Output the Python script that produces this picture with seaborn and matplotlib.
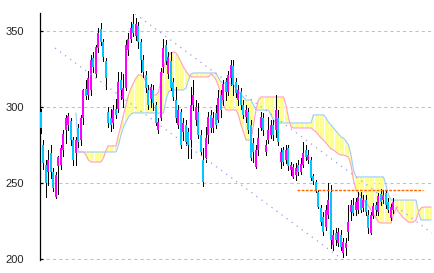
import numpy as np
import pandas as pd
import matplotlib
matplotlib.use("Agg")
import matplotlib.pyplot as plt
import seaborn as sns

# ---------------- data ----------------
opens = [297, 275, 262, 257, 270, 257, 241, 261, 262, 272,
         285, 288, 291, 278, 270, 286, 278, 293, 312, 308,
         311, 332, 322, 339, 351, 343, 330, 297, 293, 289.5,
         299, 299, 318, 305, 312.5, 337.5, 345, 354.6, 346.7, 353,
         343, 331, 321, 311, 305, 311, 301, 285, 293, 326,
         341, 322, 330, 316.5, 304.6, 288, 297, 283.6, 288, 283.6,
         278, 301, 291.5, 297, 281.6, 265, 266.5, 281.6, 294.8, 286.2,
         296, 291.5, 308, 304.6, 316.5, 310, 319, 327, 316.5, 304.6,
         310, 301, 293.4, 296.7, 288, 276.3, 260.5, 271.7, 286.2, 292.8,
         270.4, 278.3, 281.6, 288.2, 285, 292.8, 263.8, 271.7, 265, 273,
         258.6, 254, 255.3, 262, 257.2, 262, 271.7, 265, 265, 254.6,
         250.7, 244, 233.6, 227.6, 221, 229, 244, 209.2, 217, 210.5,
         215.8, 204, 207, 217.8, 231, 235.5, 232.2, 232.2, 240, 233.6,
         238.8, 229, 217, 228.3, 235.5, 231, 242.8, 238.8, 243.4, 237.5,
         227, 232.2]
highs = [299, 278, 265, 272, 275, 260, 257, 268, 275, 285,
         295, 296, 293, 280, 280, 289, 295, 312, 318, 324,
         334, 336, 341, 352, 355, 345, 332, 300, 299, 301,
         305, 323, 323, 322, 344, 349, 356, 362.5, 358.6, 356,
         345, 334, 324, 314.5, 315, 314.5, 303, 293, 325.7, 345,
         344, 336, 336, 319, 313, 301, 299, 293, 291.5, 286,
         313, 318, 304.6, 302.6, 285, 273, 287, 296.7, 298, 296.7,
         301, 311, 311, 318, 319, 324, 331, 331, 319, 314.5,
         312.5, 304.6, 301, 299.4, 291.5, 279.6, 275, 286.2, 296.7, 296,
         278.3, 293.4, 291.5, 291.5, 308, 298, 273, 273.7, 275, 275,
         263.8, 262.5, 263.2, 265, 266.5, 277, 275, 271.7, 267, 256,
         252, 245.4, 235.5, 231, 235.5, 250, 248.7, 219, 220.4, 220.4,
         219, 213.8, 213.8, 235.5, 238.8, 240, 240, 244, 244, 242,
         242, 232.2, 231, 237, 237.5, 243.4, 246, 245.4, 245.4, 240,
         236, 240]
lows = [283, 259, 241, 249, 253, 245, 240, 243, 259, 268,
        276, 285, 275, 262, 262, 274, 275, 289, 305, 305,
        308, 323, 320, 336, 341, 330, 312, 287, 284, 286,
        293, 297, 305, 300, 311, 334, 343, 347, 344, 339,
        323, 320, 310, 299, 300, 298, 288, 283, 291.5, 323,
        328, 319, 311, 304.6, 290, 286, 273, 278, 275, 266.5,
        266.5, 298, 288, 279.6, 268.4, 248, 263.8, 276.3, 283.6, 283.6,
        286, 290, 293.4, 301, 304.6, 308, 314.5, 308, 306.6, 301,
        299, 292.8, 290, 283, 265, 263.8, 260, 268.4, 285, 281.6,
        268.4, 276.3, 279.6, 278.3, 280.3, 275, 260, 262, 263, 258.6,
        255.3, 253.3, 252, 255.3, 256, 260.5, 265, 263.2, 252, 249.4,
        244, 233.6, 222.4, 215.8, 219, 227, 207.2, 206, 209.2, 208.6,
        206, 201.3, 202.6, 212.5, 225.7, 229, 229, 230.3, 231, 231.5,
        229, 217, 216.5, 227, 229, 229, 235.5, 236.8, 233.6, 231,
        225.7, 230.3]
closes = [286, 263, 250, 265, 257, 247, 255, 267, 273, 282,
          293, 294, 278, 265, 278, 277, 293, 311, 307, 319,
          331, 326, 339.5, 349, 343, 333, 319, 289.5, 288, 298,
          295, 316.5, 311, 312.5, 341, 345, 352, 349, 354.6, 343,
          331, 323, 312.5, 301, 313, 302.6, 289.5, 290, 323, 339,
          330, 333, 312.5, 306.6, 293, 298, 275, 289.5, 277, 275,
          301, 308, 300, 281.6, 270.4, 250.7, 279.6, 293.4, 286.2, 292.8,
          288, 306, 298, 315, 310, 321, 327.7, 314.5, 309, 311,
          301, 294.8, 298, 285, 266.5, 270.4, 271.7, 279.6, 293.4, 285,
          275, 285, 288.2, 281.6, 298, 277, 270.4, 263.8, 271.7, 261,
          262, 260.5, 260, 257, 262.5, 269.7, 267, 268.4, 253.3, 251.3,
          245.4, 234.2, 224.3, 217.8, 232.2, 238.8, 212.5, 215.8, 212.5, 217.8,
          208, 211, 210.5, 224.3, 235.5, 230.3, 237.5, 240.8, 232.2, 238.8,
          231, 220.4, 229, 235, 232.2, 241.5, 237.5, 242, 235.5, 232.2,
          234.2, 237.5]

cloud_start = 14
span_a = [296.1,
          270.4, 270.4, 270.4, 270.4, 270.4, 270.4, 270.4, 270.4,
          270.4, 270.4, 270.4, 270.4, 270.4, 270.4, 270.4, 270.4,
          275.0, 281.6, 286.9, 290.1, 293.4, 295.4,
          296.1, 296.1, 296.1, 296.1, 296.1, 296.1, 296.1, 296.1, 296.1, 296.1, 296.1, 296.1, 296.1,
          304.6, 309.9,
          311.2, 311.2, 311.2, 311.2, 311.2, 311.2,
          312.5, 317.8, 321.7,
          322.4, 322.4, 322.4, 322.4, 322.4, 322.4, 322.4, 322.4, 322.4, 322.4,
          319.1, 316.5,
          315.8, 315.8, 315.8, 315.8,
          314.5, 312.5, 309.9, 307.9, 306.6,
          304.6, 304.6, 304.6,
          301.3,
          298.0, 298.0, 298.0, 298.0, 298.0, 298.0,
          294.8, 291.5,
          289.5, 289.5, 289.5, 289.5, 289.5, 289.5, 289.5, 289.5,
          289.5, 289.5, 289.5, 289.5, 289.5, 289.5, 289.5,
          294.8, 294.8, 294.8, 294.8, 294.8,
          292.8, 290.1, 288.2, 286.2, 284.2, 282.3, 280.3, 279.6, 277.6, 275.0, 268.4, 258.6,
          254.0, 254.0, 254.0, 254.0, 254.0, 254.0, 254.0, 254.0, 254.0, 254.0, 254.0, 254.0,
          248.7, 242.1,
          238.8, 238.8, 238.8, 238.8, 238.8, 238.8, 238.8, 238.8, 238.8, 238.8, 238.8,
          230.9,
          225.7, 225.7, 225.7, 225.7, 225.7]
span_b = [np.nan,
          270.4, 270.4, 270.4, 268.4, 265.1,
          263.8, 263.8, 263.8, 263.8, 263.8,
          266.5, 271.7,
          274.4, 274.4, 274.4, 274.4,
          281.6, 288.2, 294.8, 301.3, 307.9, 312.5, 315.8, 319.1, 321.1, 321.1,
          319.8, 316.5, 312.5, 309.9, 307.9, 307.9, 309.9, 317.8, 325.7, 330.9,
          334.2, 335.5, 336.2, 335.5, 332.9, 329.6, 326.3, 323.7, 321.1,
          319.8, 319.8, 319.8, 319.8, 319.8, 319.8, 319.8, 319.8,
          321.7, 320.4, 317.8, 313.8, 307.9, 301.3,
          298.0, 298.0, 298.0, 298.0, 298.0,
          294.8, 288.2, 283.6,
          278.3, 278.3, 278.3,
          288.2, 298.0, 304.6,
          306.6, 306.6, 306.6, 306.6, 306.6, 306.6, 306.6, 306.6, 306.6, 306.6,
          301.3, 292.8, 286.9,
          286.2, 286.2, 286.2, 286.2, 286.2, 286.2, 286.2, 286.2,
          284.9, 283.6, 281.6, 279.6, 278.3, 276.3, 274.4, 272.4, 271.7, 270.4,
          269.1, 268.4, 268.4, 267.8, 267.1, 261.9, 252.0, 245.4, 243.4, 241.5,
          238.8, 236.8, 234.9, 232.2, 229.6, 227.0, 224.3,
          223.7, 223.7, 223.7, 223.7, 223.7,
          229.0, 233.6, 230.9, 229.0, 227.0, 225.7,
          224.3, 224.3, 224.3,
          225.7, 230.9, 233.6,
          234.2, 234.2, 234.2, 234.2]

trend1_x = [5.6, 123.6]
trend1_y = [338.8, 196.1]
trend2_x = [35.6, 156.4]
trend2_y = [363.8, 217.1]
level_x = [102.4, 152.8]
level_y = [245.4, 245.4]

y_ticks = [200, 250, 300, 350]

# ---------------- style ----------------
sns.set_style("white")
plt.rcParams['font.family'] = ['Liberation Sans', 'DejaVu Sans']

W, H = 435, 273
fig = plt.figure(figsize=(W / 100, H / 100), dpi=100)
ax = fig.add_axes([40 / W, (H - 259.8) / H, (432 - 40) / W, (259.8 - 13.5) / H])

# ---------------- cloud ----------------
a = np.array(span_a, dtype=float)
b = np.array(span_b, dtype=float)
jj = np.arange(cloud_start, cloud_start + len(a))
ok = ~np.isnan(b)
ax.vlines(jj[ok], np.minimum(a, b)[ok], np.maximum(a, b)[ok],
          color='#ffff90', lw=1.1, zorder=1, antialiased=False)
cloud = pd.DataFrame({'x': jj, 'a': a, 'b': b})
sns.lineplot(data=cloud, x='x', y='a', color='#99ccff', lw=0.8, ax=ax, zorder=2)
sns.lineplot(data=cloud, x='x', y='b', color='#ff9ec8', lw=0.8, ax=ax, zorder=2)

# ---------------- candles ----------------
o = np.array(opens, dtype=float)
c = np.array(closes, dtype=float)
h = np.array(highs, dtype=float)
l = np.array(lows, dtype=float)
idx = np.arange(len(o))
up = c >= o
ax.vlines(idx, l, h, color='black', lw=0.5, zorder=3, antialiased=False)
bot = np.minimum(o, c)
bh = np.maximum(np.abs(c - o), 0.8)
ax.bar(idx[up], bh[up], bottom=bot[up], width=0.8, color='#ff00ff', lw=0,
       zorder=4, antialiased=False)
ax.bar(idx[~up], bh[~up], bottom=bot[~up], width=0.8, color='#00c8ff', lw=0,
       zorder=4, antialiased=False)

# ---------------- trend lines ----------------
ax.plot(trend1_x, trend1_y, color='#9a9af0', lw=0.9, linestyle=(0, (1, 4)), zorder=5)
ax.plot(trend2_x, trend2_y, color='#9a9af0', lw=0.9, linestyle=(0, (1, 4)), zorder=5)
ax.plot(level_x, level_y, color='#ff6600', lw=1.0, linestyle=(0, (2, 1)), zorder=5)

# ---------------- axes ----------------
ax.set_xlim(-0.4, 156.4)
ax.set_ylim(199.5, 361.5)
ax.set_xticks([])
ax.set_yticks(y_ticks)
ax.set_yticklabels([str(t) for t in y_ticks])
ax.set_xlabel('')
ax.set_ylabel('')
ax.yaxis.grid(True, color='#c0c0c0', linestyle=(0, (3, 3)), lw=0.75)
ax.xaxis.grid(False)
ax.set_axisbelow(True)
for s in ['top', 'right', 'bottom']:
    ax.spines[s].set_visible(False)
ax.spines['left'].set_color('black')
ax.spines['left'].set_linewidth(0.9)
ax.tick_params(axis='y', direction='in', length=2.5, width=0.9, color='black',
               labelsize=8, pad=11.5, left=True)
ax.patch.set_alpha(0)

fig.savefig('out.png', dpi=100)
